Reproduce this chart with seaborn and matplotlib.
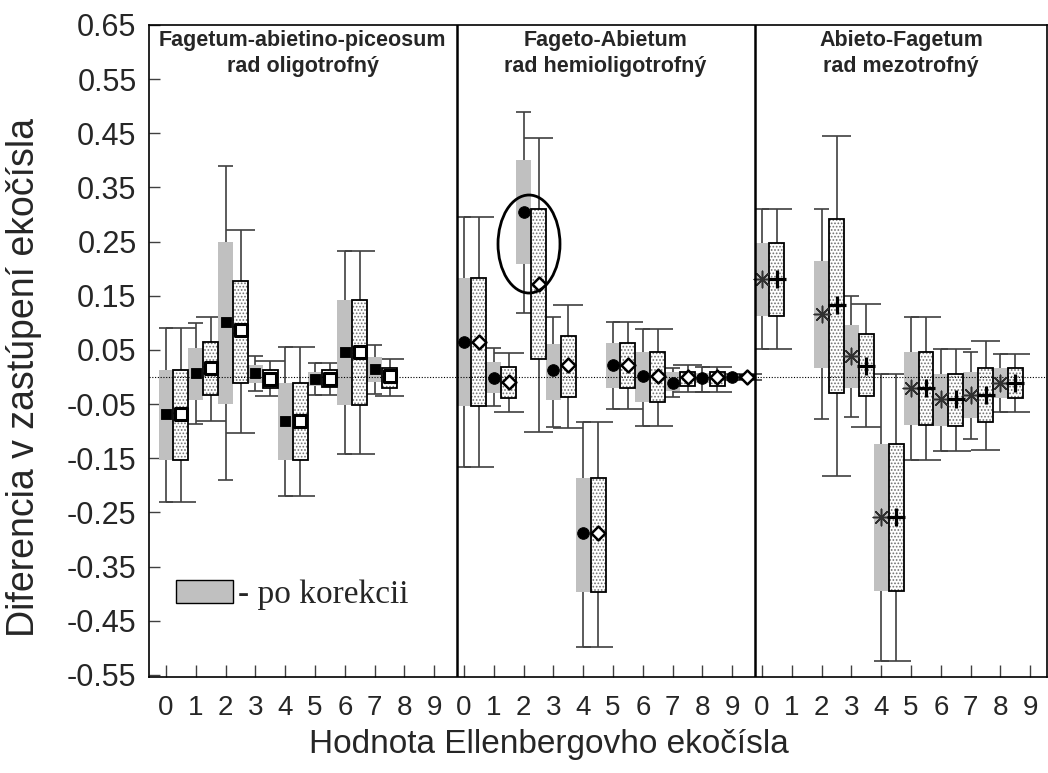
import numpy as np
import pandas as pd
import matplotlib
matplotlib.use("Agg")
import matplotlib.pyplot as plt
import seaborn as sns
from matplotlib import font_manager
from matplotlib.patches import Ellipse, Patch
from matplotlib.transforms import blended_transform_factory

nan = np.nan

# hodnoty ekocisla 0-9 v troch vegetacnych stupnoch
ekocislo = list(range(10)) * 3
stupne = ["Fagetum-abietino-piceosum\nrad oligotrofný",
          "Fageto-Abietum\nrad hemioligotrofný",
          "Abieto-Fagetum\nrad mezotrofný"]

# po korekcii (sive stlpce)
po_mean = [-0.068, 0.008, 0.102, 0.008, -0.081, -0.003, 0.046, 0.015, nan, nan,
           0.065, -0.001, 0.305, 0.012, -0.289, 0.022, 0.001, -0.012, -0.001, 0.000,
           0.181, nan, 0.116, 0.038, -0.258, -0.021, -0.041, -0.034, -0.012, nan]
po_q1 = [-0.153, -0.042, -0.049, -0.012, -0.153, -0.016, -0.052, -0.009, nan, nan,
         -0.053, -0.029, 0.209, -0.042, -0.397, -0.020, -0.047, -0.025, -0.012, -0.004,
         0.113, nan, 0.017, -0.020, -0.395, -0.089, -0.090, -0.076, -0.038, nan]
po_q3 = [0.013, 0.054, 0.249, 0.022, -0.012, 0.010, 0.142, 0.037, nan, nan,
         0.183, 0.027, 0.400, 0.060, -0.186, 0.063, 0.046, 0.010, 0.007, 0.004,
         0.248, nan, 0.215, 0.096, -0.124, 0.046, 0.006, 0.009, 0.016, nan]
po_min = [-0.231, -0.086, -0.190, -0.025, -0.219, -0.033, -0.142, -0.032, nan, nan,
          -0.167, -0.053, 0.119, -0.092, -0.498, -0.059, -0.090, -0.037, -0.027, -0.006,
          0.052, nan, -0.078, -0.073, -0.524, -0.153, -0.137, -0.115, -0.065, nan]
po_max = [0.091, 0.100, 0.389, 0.039, 0.056, 0.026, 0.233, 0.059, nan, nan,
          0.295, 0.054, 0.489, 0.110, -0.084, 0.102, 0.089, 0.016, 0.019, 0.006,
          0.311, nan, 0.310, 0.150, 0.006, 0.110, 0.051, 0.047, 0.043, nan]

# pred korekciou (bodkovane stlpce)
pred_mean = [-0.068, 0.016, 0.086, -0.003, -0.081, -0.003, 0.047, 0.001, nan, nan,
             0.065, -0.010, 0.172, 0.022, -0.289, 0.022, 0.001, 0.000, 0.000, 0.000,
             0.181, nan, 0.132, 0.021, -0.258, -0.020, -0.041, -0.033, -0.012, nan]
pred_q1 = [-0.153, -0.034, -0.011, -0.020, -0.153, -0.018, -0.052, -0.020, nan, nan,
           -0.053, -0.038, 0.033, -0.037, -0.397, -0.020, -0.047, -0.016, -0.016, -0.004,
           0.113, nan, -0.030, -0.036, -0.395, -0.089, -0.090, -0.084, -0.038, nan]
pred_q3 = [0.013, 0.064, 0.178, 0.012, -0.012, 0.012, 0.142, 0.017, nan, nan,
           0.183, 0.018, 0.310, 0.076, -0.186, 0.062, 0.046, 0.010, 0.010, 0.004,
           0.248, nan, 0.291, 0.079, -0.124, 0.046, 0.006, 0.016, 0.016, nan]
pred_min = [-0.231, -0.082, -0.103, -0.035, -0.219, -0.033, -0.142, -0.036, nan, nan,
            -0.167, -0.065, -0.101, -0.094, -0.498, -0.059, -0.090, -0.027, -0.027, -0.006,
            0.052, nan, -0.182, -0.092, -0.524, -0.153, -0.137, -0.135, -0.065, nan]
pred_max = [0.091, 0.111, 0.271, 0.029, 0.056, 0.026, 0.233, 0.033, nan, nan,
            0.295, 0.045, 0.441, 0.133, -0.084, 0.102, 0.089, 0.022, 0.019, 0.006,
            0.311, nan, 0.445, 0.135, 0.006, 0.110, 0.051, 0.066, 0.043, nan]

y_ticks = [0.65, 0.55, 0.45, 0.35, 0.25, 0.15, 0.05, -0.05, -0.15, -0.25, -0.35, -0.45, -0.55]

# tabulka pre kreslenie
k = np.arange(30)
df = pd.concat([
    pd.DataFrame({"pos": k, "panel": k // 10, "serie": "po", "mean": po_mean,
                  "q1": po_q1, "q3": po_q3, "wmin": po_min, "wmax": po_max}),
    pd.DataFrame({"pos": k + 0.5, "panel": k // 10, "serie": "pred", "mean": pred_mean,
                  "q1": pred_q1, "q3": pred_q3, "wmin": pred_min, "wmax": pred_max}),
]).dropna()

sns.set_theme(style="white")
fonty = {f.name for f in font_manager.fontManager.ttflist}
uzke = "Liberation Sans Narrow" if "Liberation Sans Narrow" in fonty else "Liberation Sans"
plt.rcParams["font.family"] = ["Liberation Sans", "DejaVu Sans"]
plt.rcParams["axes.unicode_minus"] = False
plt.rcParams["hatch.linewidth"] = 0.8

fig = plt.figure(figsize=(10.48, 7.73), dpi=100)
ax = fig.add_axes([0.1422, 0.1242, 0.8568, 0.8435])

po = df[df.serie == "po"]
pred = df[df.serie == "pred"]

# fuzy
for d, cw in [(po, 0.5), (pred, 1.0)]:
    ax.vlines(d.pos, d.wmin, d.wmax, color="#404040", lw=1.2, zorder=1)
    ax.hlines(d.wmin, d.pos - cw / 2, d.pos + cw / 2, color="#404040", lw=1.2, zorder=1)
    ax.hlines(d.wmax, d.pos - cw / 2, d.pos + cw / 2, color="#404040", lw=1.2, zorder=1)

# krabice
ax.bar(po.pos, po.q3 - po.q1, bottom=po.q1, width=0.5, color="#c0c0c0", lw=0, zorder=2)
ax.bar(pred.pos, pred.q3 - pred.q1, bottom=pred.q1, width=0.5, color="white",
       edgecolor="#707070", lw=0, hatch=".....", zorder=2)
ax.bar(pred.pos, pred.q3 - pred.q1, bottom=pred.q1, width=0.5, fill=False,
       edgecolor="black", lw=1.3, zorder=2.1)

ax.axhline(0, color="black", lw=0.8, ls=(0, (1, 1.5)), zorder=2.5)

# priemery
znacky = {
    (0, "po"): dict(marker="s", s=60, color="black", edgecolor="black"),
    (0, "pred"): dict(marker="s", s=75, color="white", edgecolor="black", linewidth=2.2),
    (1, "po"): dict(marker="o", s=70, color="black", edgecolor="black"),
    (1, "pred"): dict(marker="D", s=50, color="white", edgecolor="black", linewidth=1.8),
    (2, "po"): dict(marker=(8, 2, 0), s=140, color="#303030", linewidth=1.1),
    (2, "pred"): dict(marker="+", s=150, color="black", linewidth=2.3),
}
for (p, s), kw in znacky.items():
    d = df[(df.panel == p) & (df.serie == s)]
    sns.scatterplot(data=d, x="pos", y="mean", ax=ax, legend=False, zorder=3, **kw)

# hranice stupnov
for xv in [9.75, 19.75]:
    ax.axvline(xv, color="black", lw=1.8, zorder=4)

trans = blended_transform_factory(ax.transData, ax.transAxes)
for xc, txt in zip([4.59, 14.75, 24.66], stupne):
    ax.text(xc, 0.992, txt, transform=trans, ha="center", va="top",
            fontsize=15.5, fontweight="bold", linespacing=1.3)

ax.add_patch(Ellipse((12.18, 0.2455), 2.08, 0.181, fill=False, edgecolor="black",
                     lw=2, zorder=5))

ax.set_xlim(-0.57, 29.56)
ax.set_ylim(-0.554, 0.65)
ax.set_xticks(k)
ax.set_xticklabels([str(v) for v in ekocislo], family=uzke, fontsize=20)
ax.set_yticks(y_ticks)
ax.set_yticklabels([f"{v:.2f}" for v in y_ticks], fontsize=22)
ax.tick_params(axis="x", direction="in", length=9, width=1, color="#404040", pad=13,
               bottom=True)
ax.tick_params(axis="y", direction="in", length=8, width=1, color="#404040", pad=9,
               left=True)
for sp in ax.spines.values():
    sp.set_color("black")
    sp.set_linewidth(1.2)

ax.set_xlabel("Hodnota Ellenbergovho ekočísla", fontsize=24)
ax.xaxis.set_label_coords(0.445, -0.079)
ax.set_ylabel("Diferencia v zastúpení ekočísla", fontsize=27)
ax.yaxis.set_label_coords(-0.119, 0.4586)

ax.legend(handles=[Patch(facecolor="#c0c0c0", edgecolor="black", lw=1, label="- po korekcii")],
          loc="center left", bbox_to_anchor=(0.030, 0.126), frameon=False,
          prop={"family": "Liberation Serif", "size": 24}, handlelength=1.7,
          handleheight=0.72, handletextpad=0.15, borderpad=0, borderaxespad=0)

fig.savefig("out.png", dpi=100)
